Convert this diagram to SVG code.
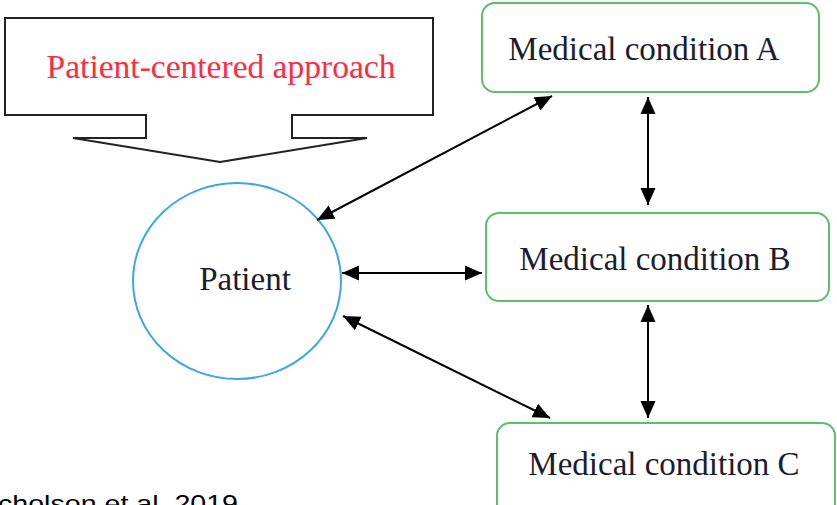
<svg xmlns="http://www.w3.org/2000/svg" width="837" height="505" viewBox="0 0 837 505">
<style>
.lbl{font-family:"Liberation Serif","Times New Roman",serif;font-size:33px;fill:#1c1c30;text-anchor:middle}
.box{fill:#fff;stroke:#5cbf6a;stroke-width:2}
.con{stroke:#000;stroke-width:2;fill:none;marker-start:url(#ah);marker-end:url(#ah)}
</style>
<defs>
<marker id="ah" markerUnits="userSpaceOnUse" markerWidth="18" markerHeight="16" refX="17" refY="7.5" orient="auto-start-reverse" viewBox="0 0 18 15">
<path d="M0,0 L17,7.5 L0,15 z" fill="#000"/>
</marker>
</defs>
<rect width="837" height="505" fill="#fff"/>
<g id="approach">
<path d="M5,18 H433 V115 H292 V138 H367 L220,162 L73,138 H146 V115 H5 Z" fill="#fff" stroke="#222" stroke-width="2"/>
<text x="221" y="78" style="font-family:'Liberation Serif','Times New Roman',serif;font-size:33.5px;fill:#ff2b3f;text-anchor:middle">Patient-centered approach</text>
</g>
<g id="patient">
<ellipse cx="237" cy="281" rx="104" ry="98" fill="#fff" stroke="#3aa8e2" stroke-width="2"/>
<text class="lbl" x="245" y="290">Patient</text>
</g>
<g id="condA">
<rect class="box" x="482" y="3" width="337" height="89" rx="13"/>
<text class="lbl" x="644" y="60">Medical condition A</text>
</g>
<g id="condB">
<rect class="box" x="486" y="213" width="343" height="88" rx="13"/>
<text class="lbl" x="655" y="270">Medical condition B</text>
</g>
<g id="condC">
<rect class="box" x="497" y="423" width="338" height="100" rx="13"/>
<text class="lbl" x="664" y="475">Medical condition C</text>
</g>
<g id="connectors">
<line class="con" x1="317" y1="220" x2="552" y2="96"/>
<line class="con" x1="342" y1="273" x2="482" y2="273"/>
<line class="con" x1="343" y1="316" x2="550" y2="418"/>
<line class="con" x1="648" y1="97" x2="648" y2="205"/>
<line class="con" x1="648" y1="305" x2="648" y2="418"/>
</g>
<text x="-2" y="512" textLength="240" lengthAdjust="spacingAndGlyphs" style="font-family:'Liberation Sans',Arial,sans-serif;font-size:24px;fill:#000">cholson et al. 2019</text>
</svg>
